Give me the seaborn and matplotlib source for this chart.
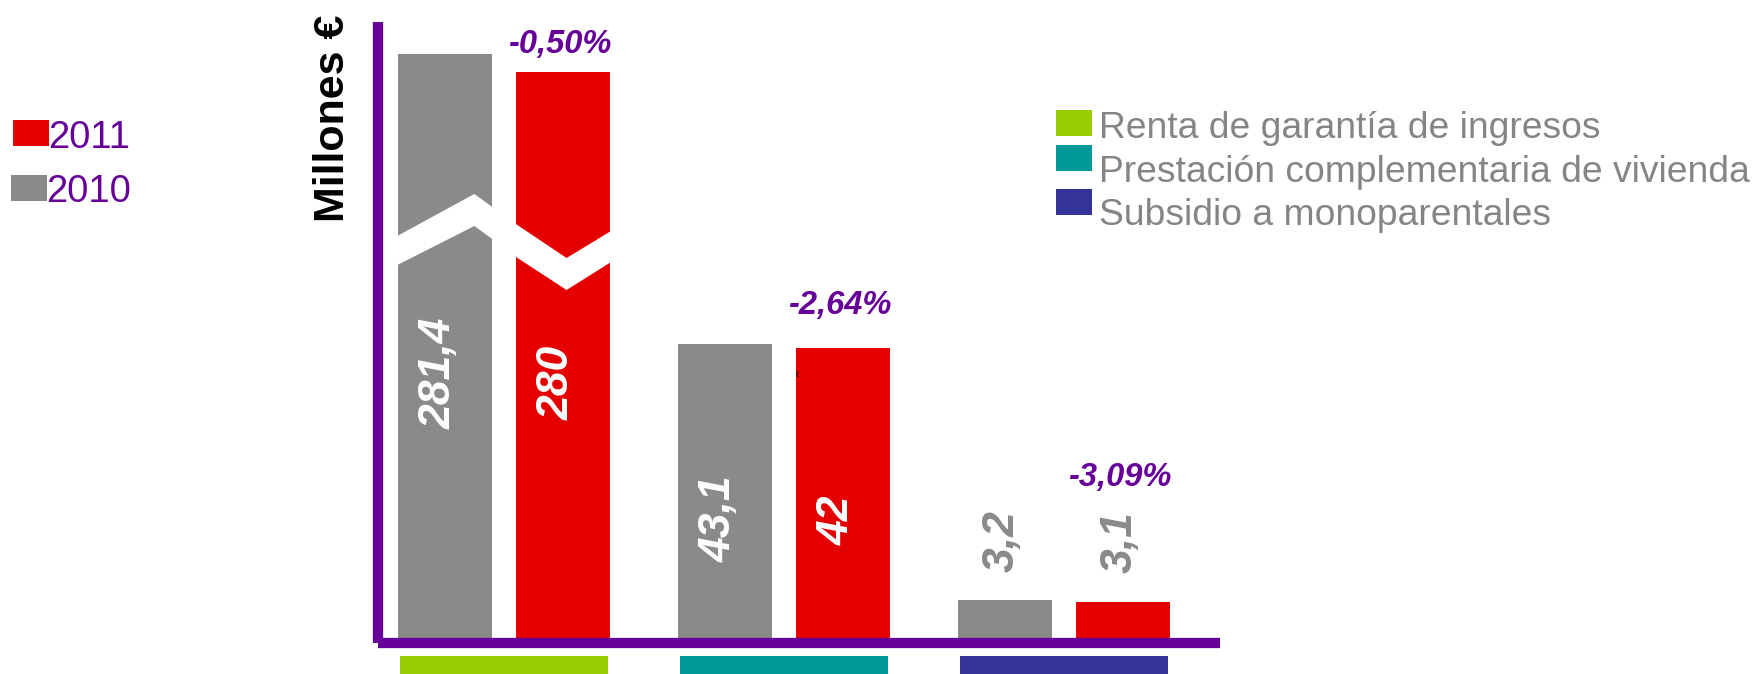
import numpy as np
import pandas as pd
import matplotlib
matplotlib.use("Agg")
import matplotlib.pyplot as plt
import matplotlib.transforms as mtransforms
from matplotlib.patches import Rectangle, Polygon
import seaborn as sns

# Datos (millones de euros)
programas = ["Renta de garantía de ingresos",
             "Prestación complementaria de vivienda",
             "Subsidio a monoparentales"]
anios = ["2010", "2011"]
importe_2010 = [281.4, 43.1, 3.2]
importe_2011 = [280, 42, 3.1]
etiquetas_2010 = ["281,4", "43,1", "3,2"]
etiquetas_2011 = ["280", "42", "3,1"]
variaciones = ["-0,50%", "-2,64%", "-3,09%"]

GRIS = "#8B8A88"
ROJO = "#E50000"
MORADO = "#660099"
colores_programa = ["#99CC00", "#009999", "#333399"]

df = pd.DataFrame({
    "programa": programas * 2,
    "anio": [anios[0]] * 3 + [anios[1]] * 3,
    "importe": importe_2010 + importe_2011,
})

# Escala con corte: tramo bajo logaritmico, tramo intermedio comprimido
A, C, V0, V1, S_TOP = 220.8, 15.0, 60.0, 275.0, 12.86
G0 = A * np.log1p(V0 / C)
P1 = 506.7
S_MID = (P1 - G0) / (V1 - V0)


def forward(v):
    v = np.asarray(v, dtype=float)
    low = A * np.log1p(np.maximum(v, -0.99 * C) / C)
    mid = G0 + (v - V0) * S_MID
    top = P1 + (v - V1) * S_TOP
    return np.where(v <= V0, low, np.where(v <= V1, mid, top))


def inverse(y):
    y = np.asarray(y, dtype=float)
    low = C * np.expm1(np.minimum(y, G0) / A)
    mid = V0 + (y - G0) / S_MID
    top = V1 + (y - P1) / S_TOP
    return np.where(y <= G0, low, np.where(y <= P1, mid, top))


sns.set_style("white")
plt.rcParams["font.family"] = ["Liberation Sans", "DejaVu Sans"]

W, H = 1754, 674
fig = plt.figure(figsize=(W / 100, H / 100), dpi=100)
ax = fig.add_axes([378 / W, 31 / H, 842 / W, 621 / H])

sns.barplot(data=df, x="programa", y="importe", hue="anio", hue_order=anios,
            palette=[GRIS, ROJO], saturation=1, width=0.84, gap=0.2,
            errorbar=None, legend=False, linewidth=0, ax=ax)

ax.set_yscale("function", functions=(forward, inverse))
ax.set_ylim(0, float(inverse(621)))
ax.set_xlim(-0.45, -0.45 + 842 / 280)
ax.set_xticks([])
ax.set_yticks([])
ax.set_xlabel("")
ax.set_ylabel("Millones €", fontsize=31, fontweight="bold", color="black")
ax.yaxis.set_label_coords(-0.053, 0.845)
ax.yaxis.label.set(ha="center", va="center")

for side in ["top", "right"]:
    ax.spines[side].set_visible(False)
for side in ["left", "bottom"]:
    ax.spines[side].set_color(MORADO)
    ax.spines[side].set_linewidth(7.4)
    ax.spines[side].set_capstyle("butt")

bars = sorted([p for p in ax.patches if p.get_height() > 0], key=lambda p: p.get_x())
valores = [v for par in zip(importe_2010, importe_2011) for v in par]
etiquetas = [e for par in zip(etiquetas_2010, etiquetas_2011) for e in par]

for bar, v, lab in zip(bars, valores, etiquetas):
    cx = bar.get_x() + bar.get_width() / 2
    if forward(v) > 150:
        ax.annotate(lab, xy=(cx, float(inverse(forward(v) / 2))), xytext=(-4, -18),
                    textcoords="offset points", rotation=90, ha="center", va="center",
                    fontsize=32, fontweight="bold", fontstyle="italic", color="white", zorder=6)
    else:
        ax.annotate(lab, xy=(cx, v), xytext=(-2, 43),
                    textcoords="offset points", rotation=90, ha="center", va="center",
                    fontsize=32, fontweight="bold", fontstyle="italic", color=GRIS, zorder=6)

# variacion sobre las barras de 2011
desplaz_pct = [20, 31, 89]
for bar, txt, off in zip(bars[1::2], variaciones, desplaz_pct):
    cx = bar.get_x() + bar.get_width() / 2
    ax.annotate(txt, xy=(cx, bar.get_height()), xytext=(-2, off), textcoords="offset points",
                ha="center", va="center", fontsize=23.5, fontweight="bold",
                fontstyle="italic", color=MORADO)

# marcas de corte en las barras altas
mixto = mtransforms.blended_transform_factory(ax.transData, ax.transAxes)


def corte(bar, puntos):
    x0, w = bar.get_x(), bar.get_width()
    pts = [(x0 + fx * w, (643 - py) / 621) for fx, py in puntos]
    ax.add_patch(Polygon(pts, closed=True, facecolor="white", edgecolor="none",
                         transform=mixto, zorder=5))


corte(bars[0], [(-0.03, 237), (0.81, 194), (1.03, 209), (1.03, 241), (0.81, 226), (-0.03, 266)])
corte(bars[1], [(-0.03, 222), (0.54, 258), (1.03, 230), (1.03, 261), (0.54, 290), (-0.03, 255)])

# franjas de color bajo cada programa
for i, col in enumerate(colores_programa):
    ax.add_patch(Rectangle((i - 0.3714, -0.07), 0.743, 0.07 - 13 / 621, facecolor=col,
                           edgecolor="none", transform=mixto, clip_on=False))


def px(x, y):
    return x / W, 1 - y / H


# leyenda de anios
fig.add_artist(Rectangle(px(13, 146), 36 / W, 26 / H, facecolor=ROJO, edgecolor="none",
                         transform=fig.transFigure))
fig.add_artist(Rectangle(px(11, 201), 36 / W, 26 / H, facecolor=GRIS, edgecolor="none",
                         transform=fig.transFigure))
fig.text(*px(48, 148), "2011", fontsize=27.5, color=MORADO, va="baseline")
fig.text(*px(46, 202), "2010", fontsize=27.5, color=MORADO, va="baseline")

# leyenda de programas
cuadros_y = [(110, 136), (145, 171), (189, 215)]
base_y = [138, 182, 225]
for nombre, col, (y0, y1), yb in zip(programas, colores_programa, cuadros_y, base_y):
    fig.add_artist(Rectangle(px(1056, y1), 36 / W, (y1 - y0) / H, facecolor=col,
                             edgecolor="none", transform=fig.transFigure))
    fig.text(*px(1099, yb), nombre, fontsize=26.8, color="#858585", va="baseline")

fig.text(*px(796, 377), "t", fontsize=7, family="Liberation Serif", color="black")

fig.savefig("out.png", dpi=100)
